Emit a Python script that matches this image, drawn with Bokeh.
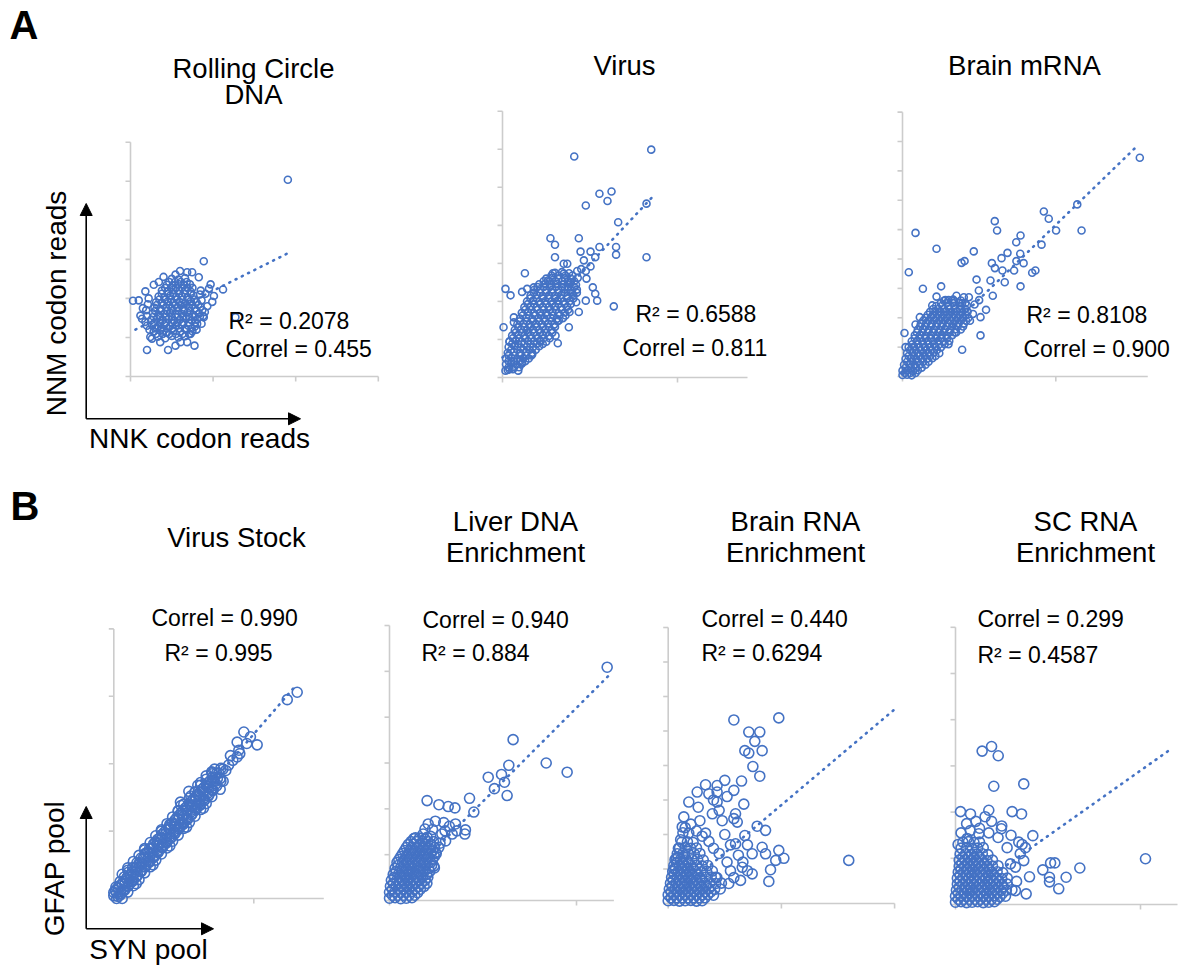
import math
from bokeh.plotting import figure
from bokeh.models import Range1d, Arrow, NormalHead
from bokeh.core.properties import value
from bokeh.embed import file_html
from bokeh.resources import INLINE

BLUE = "#4472C4"
AXIS = "#cccccc"
FONT = "Liberation Sans"

# ---------------- data (arbitrary units) ----------------
rc_pts = [(1.905,5.04),(0.887,2.95),(0.03,1.94),(1.12,2.23),(0.2,0.68),(0.455,0.68),(0.775,0.79),(0.97,2.36),(1.01,2.06),(0.99,1.91),(0.887,1.52),(1.27,1.52),(0.545,2.61),(0.686,2.67),(0.746,2.67),(0.827,2.54),(0.343,2.42),(0.18,2.18),(0.282,2.35),(0.12,1.56),(0.14,1.48),(0.24,1.01),(0.26,0.97),(0.36,0.88),(0.545,0.79),(0.605,0.88),(0.686,0.88),(0.908,2.12),(0.847,1.78),(0.807,1.35),(0.726,1.09),(0.40,1.17),(0.32,1.25),(0.10,1.95),(0.15,1.75),(0.90,1.65),(0.93,1.80),(0.85,2.20),(0.60,2.70),(0.40,2.55),(0.20,1.30),(0.95,2.25),
(0.18,1.40),(0.20,1.55),(0.19,1.70),(0.21,1.85),(0.22,2.00),(0.86,1.35),(0.88,1.55),(0.87,1.70),(0.86,1.95),(0.84,2.10),(0.23,1.20),(0.80,1.20),
(0.33,1.02),(0.42,0.98),(0.50,1.04),(0.58,1.00),(0.66,1.03),
(0.28,1.15),(0.36,1.18),(0.44,1.12),(0.52,1.17),(0.60,1.14),(0.68,1.19),(0.75,1.16),
(0.26,1.32),(0.34,1.28),(0.41,1.33),(0.48,1.29),(0.55,1.31),(0.62,1.34),(0.70,1.30),(0.78,1.28),
(0.25,1.45),(0.32,1.48),(0.39,1.44),(0.46,1.47),(0.53,1.43),(0.60,1.46),(0.67,1.49),(0.74,1.44),(0.81,1.47),
(0.27,1.62),(0.34,1.58),(0.41,1.61),(0.48,1.63),(0.55,1.59),(0.62,1.60),(0.69,1.64),(0.76,1.58),(0.83,1.61),
(0.29,1.76),(0.36,1.73),(0.43,1.77),(0.50,1.74),(0.57,1.78),(0.64,1.72),(0.71,1.76),(0.78,1.74),
(0.31,1.90),(0.38,1.88),(0.45,1.92),(0.52,1.89),(0.59,1.91),(0.66,1.87),(0.73,1.93),(0.80,1.90),
(0.34,2.05),(0.41,2.03),(0.48,2.07),(0.55,2.04),(0.62,2.06),(0.69,2.02),(0.76,2.08),
(0.38,2.20),(0.45,2.18),(0.52,2.22),(0.59,2.19),(0.66,2.21),(0.73,2.17),
(0.44,2.35),(0.51,2.33),(0.58,2.37),(0.65,2.34),(0.72,2.36),
(0.50,2.50),(0.58,2.48),(0.66,2.52)]
rc_dense_rows = [(1.09,[0.31,0.39,0.47,0.55,0.63,0.71]),(1.23,[0.30,0.37,0.45,0.51,0.59,0.66,0.74]),
                 (1.38,[0.29,0.36,0.43,0.50,0.57,0.64,0.71,0.78]),(1.53,[0.28,0.36,0.43,0.50,0.57,0.64,0.71,0.78,0.84]),
                 (1.68,[0.30,0.37,0.44,0.51,0.58,0.65,0.72,0.80]),(1.83,[0.32,0.40,0.47,0.54,0.61,0.68,0.75,0.82]),
                 (1.97,[0.35,0.42,0.49,0.56,0.63,0.70,0.77]),(2.12,[0.38,0.45,0.52,0.59,0.66,0.73]),
                 (2.27,[0.42,0.49,0.55,0.62,0.69,0.75]),(2.42,[0.47,0.54,0.61,0.68])]
rc_trend_x = [0.06, 1.90]
rc_trend_y = [1.20, 3.15]

virus_pts = [(0.85,5.99),(0.41,5.81),(0.554,4.83),(0.623,4.89),(0.60,4.64),(0.476,4.52),(0.823,4.57),(0.661,4.08),(0.274,3.66),(0.30,3.49),(0.436,3.66),(0.30,3.16),(0.554,3.43),(0.649,3.43),(0.649,3.23),(0.823,3.16),(0.446,3.31),(0.503,3.31),(0.53,3.16),(0.35,2.99),(0.37,2.99),(0.465,3.08),(0.503,2.92),(0.128,2.74),(0.288,2.74),(0.35,2.73),(0.427,2.80),(0.476,2.80),(0.017,2.33),(0.046,2.16),(0.112,2.25),(0.141,2.33),(0.179,2.37),(0.516,2.37),(0.53,2.20),(0.541,2.02),(0.636,1.87),(0.476,2.02),(0.421,1.98),(0.436,1.72),(0.383,1.72),(0.379,1.32),(0.322,1.50),(0.303,1.10),(0.316,0.90),(0.006,1.32),(0.065,1.58),(0.065,1.45),(0.04,0.94),(0.017,0.18),(0.04,0.22),(0.112,0.39),(0.17,0.61),(0.217,0.94),(0.39,2.50),(0.45,2.85),(0.40,2.20),(0.26,2.55),(0.48,2.60),
(0.03,0.20),(0.06,0.22),(0.09,0.18),
(0.02,0.35),(0.05,0.37),(0.08,0.34),(0.11,0.36),
(0.02,0.50),(0.05,0.52),(0.085,0.49),(0.12,0.51),(0.15,0.50),
(0.03,0.65),(0.065,0.67),(0.10,0.64),(0.135,0.66),(0.17,0.65),
(0.035,0.80),(0.07,0.82),(0.105,0.79),(0.14,0.81),(0.175,0.80),(0.21,0.82),
(0.04,0.95),(0.075,0.97),(0.11,0.94),(0.145,0.96),(0.18,0.95),(0.215,0.97),(0.25,0.94),
(0.055,1.10),(0.09,1.12),(0.125,1.09),(0.16,1.11),(0.195,1.10),(0.23,1.12),(0.265,1.09),
(0.07,1.25),(0.105,1.27),(0.14,1.24),(0.175,1.26),(0.21,1.25),(0.245,1.27),(0.28,1.24),
(0.085,1.40),(0.12,1.42),(0.155,1.39),(0.19,1.41),(0.225,1.40),(0.26,1.42),(0.295,1.39),
(0.10,1.55),(0.135,1.57),(0.17,1.54),(0.205,1.56),(0.24,1.55),(0.275,1.57),(0.31,1.54),(0.345,1.56),
(0.11,1.70),(0.145,1.72),(0.18,1.69),(0.215,1.71),(0.25,1.70),(0.285,1.72),(0.32,1.69),(0.355,1.71),
(0.125,1.85),(0.16,1.87),(0.195,1.84),(0.23,1.86),(0.265,1.85),(0.30,1.87),(0.335,1.84),(0.37,1.86),
(0.14,2.00),(0.175,2.02),(0.21,1.99),(0.245,2.01),(0.28,2.00),(0.315,2.02),(0.35,1.99),(0.385,2.01),
(0.16,2.15),(0.195,2.17),(0.23,2.14),(0.265,2.16),(0.30,2.15),(0.335,2.17),(0.37,2.14),(0.405,2.16),
(0.18,2.30),(0.215,2.32),(0.25,2.29),(0.285,2.31),(0.32,2.30),(0.355,2.32),(0.39,2.29),(0.425,2.31),
(0.21,2.45),(0.245,2.47),(0.28,2.44),(0.315,2.46),(0.35,2.45),(0.385,2.47),(0.42,2.44),
(0.25,2.60),(0.285,2.62),(0.32,2.59),(0.355,2.61),(0.39,2.60),(0.43,2.62),
(0.30,2.75),(0.34,2.77),(0.38,2.74)]
virus_dense_rows = [(0.27,[0.035,0.065,0.095]),(0.43,[0.035,0.065,0.10,0.13]),(0.58,[0.035,0.07,0.10,0.135,0.165]),
                    (0.73,[0.05,0.085,0.12,0.155,0.19]),(0.88,[0.055,0.09,0.125,0.16,0.195,0.23]),
                    (1.03,[0.06,0.095,0.13,0.165,0.20,0.235,0.27]),(1.18,[0.075,0.11,0.145,0.18,0.215,0.25,0.285]),
                    (1.33,[0.09,0.125,0.16,0.195,0.23,0.265,0.30]),(1.48,[0.10,0.14,0.175,0.21,0.245,0.28,0.315]),
                    (1.63,[0.115,0.15,0.185,0.22,0.255,0.29,0.325,0.36]),(1.78,[0.13,0.165,0.20,0.235,0.27,0.305,0.34,0.375]),
                    (1.93,[0.145,0.18,0.215,0.25,0.285,0.32,0.355,0.39]),(2.08,[0.16,0.195,0.23,0.265,0.30,0.335,0.37,0.405]),
                    (2.23,[0.18,0.215,0.25,0.285,0.32,0.355,0.39,0.425]),(2.38,[0.20,0.235,0.27,0.305,0.34,0.375,0.41]),
                    (2.53,[0.235,0.27,0.305,0.34,0.375,0.41]),(2.68,[0.28,0.32,0.36,0.40])]
virus_trend_x = [0.0, 0.855]
virus_trend_y = [0.53, 4.74]

brain_pts = [(1.548,7.45),(1.14,5.86),(0.922,5.62),(0.954,5.37),(1.002,4.97),(1.168,4.97),(0.907,4.49),(0.602,5.29),(0.617,4.97),(0.085,4.89),(0.77,4.80),(0.742,4.57),(0.222,4.35),(0.465,4.26),(0.685,4.21),(0.768,4.18),(0.385,3.87),(0.405,3.93),(0.646,4.03),(0.743,3.93),(0.79,3.86),(0.583,3.86),(0.603,3.69),(0.652,3.61),(0.728,3.61),(0.846,3.53),(0.867,3.61),(0.041,3.55),(0.483,3.30),(0.574,3.27),(0.667,3.21),(0.77,3.07),(0.133,2.99),(0.252,3.07),(0.498,2.93),(0.589,2.75),(0.352,2.75),(0.433,2.70),(0.222,2.72),(0.27,2.58),(0.335,2.58),(0.389,2.49),(0.47,2.45),(0.545,2.27),(0.509,2.02),(0.085,1.77),(0.113,2.02),(0.194,2.42),(0.509,1.40),(0.389,0.91),(0.013,1.48),(0.02,1.00),(0.44,1.90),(0.46,2.13),(0.30,2.60),(0.40,2.70),(0.50,2.60),(0.35,1.50),(0.30,1.10),
(0.00,0.05),(0.03,0.06),(0.06,0.04),
(0.00,0.20),(0.035,0.22),(0.07,0.19),(0.10,0.21),
(0.01,0.40),(0.045,0.42),(0.08,0.39),(0.115,0.41),(0.15,0.40),
(0.02,0.60),(0.055,0.62),(0.09,0.59),(0.125,0.61),(0.16,0.60),(0.195,0.62),
(0.03,0.80),(0.065,0.82),(0.10,0.79),(0.135,0.81),(0.17,0.80),(0.205,0.82),(0.24,0.79),
(0.04,1.00),(0.075,1.02),(0.11,0.99),(0.145,1.01),(0.18,1.00),(0.215,1.02),(0.25,0.99),
(0.06,1.20),(0.095,1.22),(0.13,1.19),(0.165,1.21),(0.20,1.20),(0.235,1.22),(0.27,1.19),(0.305,1.21),
(0.08,1.40),(0.115,1.42),(0.15,1.39),(0.185,1.41),(0.22,1.40),(0.255,1.42),(0.29,1.39),(0.325,1.41),
(0.10,1.60),(0.135,1.62),(0.17,1.59),(0.205,1.61),(0.24,1.60),(0.275,1.62),(0.31,1.59),(0.345,1.61),(0.38,1.60),
(0.12,1.80),(0.155,1.82),(0.19,1.79),(0.225,1.81),(0.26,1.80),(0.295,1.82),(0.33,1.79),(0.365,1.81),(0.40,1.80),
(0.15,2.00),(0.185,2.02),(0.22,1.99),(0.255,2.01),(0.29,2.00),(0.325,2.02),(0.36,1.99),(0.395,2.01),(0.43,2.00),
(0.18,2.20),(0.215,2.22),(0.25,2.19),(0.285,2.21),(0.32,2.20),(0.355,2.22),(0.39,2.19),(0.425,2.21),
(0.22,2.40),(0.26,2.42),(0.30,2.39),(0.34,2.41),(0.38,2.40),(0.42,2.42),
(0.28,2.60),(0.33,2.62),(0.38,2.59)]
brain_dense_rows = [(0.12,[0.015,0.05,0.085]),(0.30,[0.02,0.055,0.09,0.125]),(0.50,[0.03,0.065,0.10,0.135,0.17]),
                    (0.70,[0.04,0.075,0.11,0.145,0.18,0.215]),(0.90,[0.05,0.085,0.12,0.155,0.19,0.225]),
                    (1.10,[0.065,0.10,0.135,0.17,0.205,0.24,0.275]),(1.30,[0.08,0.115,0.15,0.185,0.22,0.255,0.29]),
                    (1.50,[0.095,0.13,0.165,0.20,0.235,0.27,0.305,0.34]),(1.70,[0.115,0.15,0.185,0.22,0.255,0.29,0.325,0.36,0.395]),
                    (1.90,[0.135,0.17,0.205,0.24,0.275,0.31,0.345,0.38,0.415]),(2.10,[0.165,0.20,0.235,0.27,0.305,0.34,0.375,0.41]),
                    (2.30,[0.20,0.235,0.27,0.305,0.34,0.375,0.41]),(2.50,[0.25,0.29,0.33,0.37,0.41])]
brain_trend_x = [0.0, 1.535]
brain_trend_y = [0.10, 7.87]

stock_pts = [(0.00,0.04),(0.01,0.12),(0.03,0.03),(0.03,0.16),(0.05,0.10),(0.06,0.22),(0.07,0.12),(0.09,0.30),(0.10,0.18),(0.12,0.36),(0.13,0.25),(0.15,0.45),(0.16,0.32),(0.18,0.52),(0.19,0.40),(0.21,0.60),(0.22,0.47),(0.24,0.68),(0.25,0.55),(0.27,0.75),(0.28,0.62),(0.30,0.84),(0.31,0.70),(0.33,0.90),(0.34,0.77),(0.36,0.98),(0.37,0.84),(0.39,1.05),(0.40,0.92),(0.42,1.12),(0.43,0.99),(0.45,1.20),(0.46,1.06),(0.48,1.27),(0.49,1.13),(0.51,1.34),(0.52,1.20),(0.54,1.40),(0.55,1.28),(0.57,1.48),(0.58,1.35),(0.60,1.54),(0.61,1.42),(0.63,1.62),(0.64,1.48),(0.66,1.68),(0.67,1.56),(0.69,1.75),(0.70,1.62),(0.72,1.80),(0.73,1.70),(0.75,1.86),(0.76,1.78),(0.78,1.92),(0.80,1.90),(0.82,1.98),
(0.02,0.08),(0.08,0.22),(0.14,0.36),(0.20,0.51),(0.26,0.65),(0.32,0.79),(0.38,0.93),(0.44,1.07),(0.50,1.22),(0.56,1.36),(0.62,1.50),(0.68,1.64),(0.74,1.78),
(0.536,1.59),(0.476,1.43),(0.703,1.85),(0.781,1.74),(0.833,2.12),(0.881,2.10),(0.893,2.20),(0.881,2.32),(0.929,2.47),(0.976,2.40),(1.024,2.28),(1.239,2.95),(1.31,3.06),(0.85,2.05),(0.90,2.15),(0.95,2.30),(0.72,1.92),(0.40,1.10),(0.62,1.72),
(0.015,0.17),(0.045,0.25),(0.045,0.05),(0.075,0.32),(0.075,0.12),(0.105,0.39),(0.105,0.19),(0.135,0.46),(0.135,0.26),(0.165,0.53),(0.165,0.33),(0.195,0.60),(0.195,0.40),(0.225,0.67),(0.225,0.47),(0.255,0.74),(0.255,0.54),(0.285,0.81),(0.285,0.61),(0.315,0.88),(0.315,0.68),(0.345,0.95),(0.345,0.75),(0.375,1.02),(0.375,0.82),(0.405,1.09),(0.405,0.89),(0.435,1.16),(0.435,0.96),(0.465,1.23),(0.465,1.03),(0.495,1.30),(0.495,1.10),(0.525,1.37),(0.525,1.17),(0.555,1.44),(0.555,1.24),(0.585,1.51),(0.585,1.31),(0.615,1.58),(0.615,1.38),(0.645,1.65),(0.645,1.45),(0.675,1.72),(0.675,1.52),(0.705,1.80),(0.705,1.60),(0.735,1.86),(0.735,1.67),(0.765,1.93),(0.765,1.74),
(0.00,0.09),(0.02,0.00),(0.04,0.19),(0.05,0.07),(0.07,0.25),(0.08,0.14),(0.10,0.32),(0.11,0.21),(0.13,0.39),(0.14,0.28),(0.16,0.46),(0.17,0.35),(0.19,0.53),(0.20,0.42),(0.22,0.60),(0.23,0.49),(0.25,0.68),(0.26,0.56),(0.28,0.75),(0.29,0.63),(0.31,0.82),(0.32,0.70),(0.34,0.89),(0.35,0.77),(0.37,0.96),(0.38,0.84),(0.40,1.03),(0.41,0.91),(0.43,1.10),(0.44,0.98),(0.46,1.17),(0.47,1.05),(0.49,1.24),(0.50,1.12),(0.52,1.31),(0.53,1.19),(0.55,1.38),(0.56,1.26),(0.58,1.45),(0.59,1.33),(0.61,1.52),(0.62,1.40),(0.64,1.59),(0.65,1.47),(0.67,1.66),(0.68,1.54),(0.70,1.73),(0.71,1.61),
(0.10,0.42),(0.16,0.22),(0.22,0.72),(0.28,0.50),(0.34,1.00),(0.40,0.78),(0.46,1.30),(0.52,1.06),(0.58,1.58),(0.64,1.34),(0.70,1.88),(0.76,1.62),(0.60,1.68),(0.66,1.82),(0.55,1.52),(0.48,1.38),
(0.06,0.36),(0.06,0.00),(0.10,0.455),(0.10,0.095),(0.14,0.55),(0.14,0.19),(0.18,0.64),(0.18,0.28),(0.22,0.74),(0.22,0.38),(0.26,0.83),(0.26,0.47),(0.30,0.93),(0.30,0.57),(0.34,1.02),(0.34,0.66),(0.38,1.11),(0.38,0.75),(0.42,1.21),(0.42,0.85),(0.46,1.30),(0.46,0.94),(0.50,1.40),(0.50,1.04),(0.54,1.49),(0.54,1.13),(0.58,1.58),(0.58,1.22),(0.62,1.68),(0.62,1.32),(0.66,1.77),(0.66,1.41),(0.70,1.87),(0.70,1.51)]
stock_trend_x = [0.0, 1.30]
stock_trend_y = [0.04, 3.16]

liver_pts = [(1.164,5.09),(0.661,3.51),(0.838,3.0),(0.95,2.8),(0.638,2.95),(0.599,2.75),(0.615,2.58),(0.528,2.69),(0.561,2.44),(0.629,2.29),(0.428,2.23),(0.451,1.93),(0.201,2.18),(0.264,2.09),(0.314,2.05),(0.35,2.02),(0.245,1.73),(0.207,1.67),(0.19,1.56),(0.297,1.52),(0.335,1.45),(0.406,1.54),(0.403,1.45),(0.353,1.67),(0.139,1.37),(0.201,1.38),(0.264,1.16),(0.246,1.05),(0.237,0.75),(0.148,0.51),(0.094,0.29),(0.32,1.62),(0.28,1.45),(0.30,1.30),(0.27,1.25),(0.23,1.55),(0.29,1.70),(0.36,1.52),(0.22,1.40),(0.18,1.45),
(0.00,0.05),(0.03,0.06),(0.06,0.04),(0.09,0.05),(0.12,0.06),
(0.00,0.18),(0.03,0.19),(0.06,0.17),(0.09,0.18),(0.12,0.19),(0.15,0.17),
(0.005,0.31),(0.035,0.32),(0.065,0.30),(0.095,0.31),(0.125,0.32),(0.155,0.30),(0.185,0.31),
(0.01,0.44),(0.04,0.45),(0.07,0.43),(0.10,0.44),(0.13,0.45),(0.16,0.43),(0.19,0.44),
(0.02,0.57),(0.05,0.58),(0.08,0.56),(0.11,0.57),(0.14,0.58),(0.17,0.56),(0.20,0.57),
(0.03,0.70),(0.06,0.71),(0.09,0.69),(0.12,0.70),(0.15,0.71),(0.18,0.69),(0.21,0.70),(0.24,0.71),
(0.04,0.83),(0.07,0.84),(0.10,0.82),(0.13,0.83),(0.16,0.84),(0.19,0.82),(0.22,0.83),
(0.06,0.96),(0.09,0.97),(0.12,0.95),(0.15,0.96),(0.18,0.97),(0.21,0.95),(0.24,0.96),
(0.08,1.09),(0.11,1.10),(0.14,1.08),(0.17,1.09),(0.20,1.10),(0.23,1.08),
(0.10,1.22),(0.13,1.23),(0.16,1.21),(0.19,1.22),(0.22,1.23),
(0.13,1.35),(0.16,1.36),(0.19,1.34)]
liver_dense_rows = [(0.115,[0.015,0.045,0.075,0.105,0.135]),(0.245,[0.015,0.045,0.075,0.105,0.135,0.165]),
                    (0.375,[0.02,0.05,0.08,0.11,0.14,0.17,0.20]),(0.505,[0.025,0.055,0.085,0.115,0.145,0.175,0.205]),
                    (0.635,[0.035,0.065,0.095,0.125,0.155,0.185,0.215]),(0.765,[0.045,0.075,0.105,0.135,0.165,0.195,0.225]),
                    (0.895,[0.05,0.08,0.11,0.14,0.17,0.20,0.23]),(1.025,[0.07,0.10,0.13,0.16,0.19,0.22,0.25]),
                    (1.155,[0.09,0.12,0.15,0.18,0.21,0.24]),(1.285,[0.115,0.145,0.175,0.205,0.235])]
liver_trend_x = [0.0, 1.173]
liver_trend_y = [0.12, 4.91]

brna_pts = [(1.595,1.25),(0.977,5.38),(0.58,5.32),(0.712,4.97),(0.809,4.97),(0.765,4.70),(0.677,4.43),(0.712,4.36),(0.83,4.43),(0.748,3.97),(0.809,3.69),(0.648,3.55),(0.50,3.57),(0.58,3.28),(0.33,3.44),(0.432,3.42),(0.432,3.23),(0.432,2.94),(0.256,3.23),(0.182,2.94),(0.265,2.79),(0.668,2.88),(0.595,2.60),(0.58,2.46),(0.61,2.36),(0.786,2.24),(0.86,2.12),(0.677,1.97),(0.595,1.73),(0.83,1.63),(0.977,1.54),(1.022,1.31),(0.95,1.25),(0.86,1.44),(0.742,1.44),(0.889,0.64),(0.904,0.98),(0.124,2.22),(0.138,2.51),(0.182,2.04),(0.33,2.04),(0.359,3.18),(0.39,2.60),(0.477,2.40),(0.654,1.05),(0.639,0.67),(0.535,0.58),(0.742,0.86),(0.418,0.76),
(0.05,1.00),(0.07,1.30),(0.09,1.60),(0.11,1.85),(0.13,2.05),(0.15,2.20),(0.20,2.30),(0.25,2.10),(0.30,1.95),(0.36,1.80),(0.40,1.60),(0.45,1.45),(0.52,1.20),(0.55,0.95),(0.58,0.75),(0.62,1.40),(0.66,1.20),(0.70,0.95),(0.50,2.00),(0.45,2.70),(0.28,2.40),(0.55,1.70),(0.70,1.70),(0.40,3.00),(0.52,3.10),
(0.00,0.08),(0.05,0.09),(0.10,0.07),(0.15,0.08),(0.20,0.09),(0.25,0.07),(0.30,0.08),
(0.00,0.25),(0.05,0.26),(0.10,0.24),(0.15,0.25),(0.20,0.26),(0.25,0.24),(0.30,0.25),(0.35,0.26),(0.40,0.24),
(0.01,0.42),(0.06,0.43),(0.11,0.41),(0.16,0.42),(0.21,0.43),(0.26,0.41),(0.31,0.42),(0.36,0.43),(0.41,0.41),(0.46,0.42),
(0.02,0.59),(0.07,0.60),(0.12,0.58),(0.17,0.59),(0.22,0.60),(0.27,0.58),(0.32,0.59),(0.37,0.60),(0.42,0.58),(0.47,0.59),
(0.03,0.76),(0.08,0.77),(0.13,0.75),(0.18,0.76),(0.23,0.77),(0.28,0.75),(0.33,0.76),(0.38,0.77),(0.43,0.75),
(0.04,0.93),(0.09,0.94),(0.14,0.92),(0.19,0.93),(0.24,0.94),(0.29,0.92),(0.34,0.93),(0.39,0.94),
(0.05,1.10),(0.10,1.11),(0.15,1.09),(0.20,1.10),(0.25,1.11),(0.30,1.09),(0.35,1.10),
(0.06,1.27),(0.11,1.28),(0.16,1.26),(0.21,1.27),(0.26,1.28),(0.31,1.26),
(0.08,1.44),(0.13,1.45),(0.18,1.43),(0.23,1.44),(0.28,1.45),
(0.10,1.61),(0.15,1.62),(0.20,1.60),(0.25,1.61),
(0.12,1.78),(0.17,1.79),(0.22,1.77)]
brna_dense_rows = [(0.165,[0.025,0.075,0.125,0.175,0.225,0.275,0.325]),(0.335,[0.025,0.075,0.125,0.175,0.225,0.275,0.325,0.375]),
                   (0.505,[0.035,0.085,0.135,0.185,0.235,0.285,0.335]),(0.675,[0.045,0.095,0.145,0.195,0.245,0.295]),
                   (0.845,[0.055,0.105,0.155,0.205,0.255]),(1.015,[0.065,0.115,0.165,0.215]),
                   (1.185,[0.075,0.125,0.175]),(1.355,[0.085,0.135])]
brna_trend_x = [0.0, 1.993]
brna_trend_y = [0.08, 5.61]

sc_pts = [(1.027,0.99),(0.195,3.42),(0.144,3.32),(0.231,3.22),(0.207,2.56),(0.369,2.61),(0.027,2.01),(0.081,1.96),(0.18,2.04),(0.306,2.01),(0.357,1.96),(0.195,1.80),(0.248,1.64),(0.418,1.49),(0.342,1.35),(0.378,1.23),(0.014,1.30),(0.063,1.43),(0.126,1.53),(0.279,1.23),(0.369,0.95),(0.472,0.75),(0.514,0.90),(0.537,0.90),(0.508,0.59),(0.508,0.49),(0.598,0.59),(0.672,0.79),(0.558,0.34),(0.382,0.23),(0.324,0.30),(0.297,0.88),(0.324,0.81),(0.03,1.55),(0.08,1.60),(0.13,1.65),(0.18,1.55),(0.23,1.45),(0.06,1.75),(0.11,1.80),(0.16,1.90),(0.30,1.50),(0.25,1.70),(0.35,1.10),(0.40,0.60),(0.33,0.50),(0.36,1.30),
(0.00,0.05),(0.03,0.06),(0.06,0.04),(0.09,0.05),(0.12,0.06),(0.15,0.04),(0.18,0.05),(0.21,0.06),
(0.00,0.18),(0.03,0.19),(0.06,0.17),(0.09,0.18),(0.12,0.19),(0.15,0.17),(0.18,0.18),(0.21,0.19),(0.24,0.17),(0.27,0.18),
(0.005,0.31),(0.035,0.32),(0.065,0.30),(0.095,0.31),(0.125,0.32),(0.155,0.30),(0.185,0.31),(0.215,0.32),(0.245,0.30),(0.275,0.31),(0.305,0.32),
(0.01,0.44),(0.04,0.45),(0.07,0.43),(0.10,0.44),(0.13,0.45),(0.16,0.43),(0.19,0.44),(0.22,0.45),(0.25,0.43),(0.28,0.44),
(0.01,0.57),(0.04,0.58),(0.07,0.56),(0.10,0.57),(0.13,0.58),(0.16,0.56),(0.19,0.57),(0.22,0.58),(0.25,0.56),(0.28,0.57),
(0.015,0.70),(0.045,0.71),(0.075,0.69),(0.105,0.70),(0.135,0.71),(0.165,0.69),(0.195,0.70),(0.225,0.71),(0.255,0.69),
(0.02,0.83),(0.05,0.84),(0.08,0.82),(0.11,0.83),(0.14,0.84),(0.17,0.82),(0.20,0.83),(0.23,0.84),
(0.02,0.96),(0.05,0.97),(0.08,0.95),(0.11,0.96),(0.14,0.97),(0.17,0.95),(0.20,0.96),
(0.025,1.09),(0.055,1.10),(0.085,1.08),(0.115,1.09),(0.145,1.10),(0.175,1.08),
(0.03,1.22),(0.06,1.23),(0.09,1.21),(0.12,1.22),(0.15,1.23),
(0.04,1.35),(0.07,1.36),(0.10,1.34),(0.13,1.35)]
sc_dense_rows = [(0.115,[0.015,0.045,0.075,0.105,0.135,0.165,0.195,0.225]),(0.245,[0.015,0.045,0.075,0.105,0.135,0.165,0.195,0.225,0.255]),
                 (0.375,[0.02,0.05,0.08,0.11,0.14,0.17,0.20,0.23,0.26]),(0.505,[0.025,0.055,0.085,0.115,0.145,0.175,0.205,0.235]),
                 (0.635,[0.025,0.055,0.085,0.115,0.145,0.175,0.205]),(0.765,[0.03,0.06,0.09,0.12,0.15,0.18]),
                 (0.895,[0.035,0.065,0.095,0.125,0.155]),(1.025,[0.04,0.07,0.10,0.13])]
sc_trend_x = [0.0, 1.17]
sc_trend_y = [0.07, 3.38]

panel_titles = ["Rolling Circle", "DNA", "Virus", "Brain mRNA", "Virus Stock",
                "Liver DNA", "Enrichment", "Brain RNA", "Enrichment", "SC RNA", "Enrichment"]
stat_labels = ["R² = 0.2078", "Correl = 0.455", "R² = 0.6588", "Correl = 0.811",
               "R² = 0.8108", "Correl = 0.900", "Correl = 0.990", "R² = 0.995",
               "Correl = 0.940", "R² = 0.884", "Correl = 0.440", "R² = 0.6294",
               "Correl = 0.299", "R² = 0.4587"]

# ---------------- layout (page pixel positions) ----------------
W, H = 1178, 969
LEFT, TOP = 0, 0
SHIFT = 0.38   # measured offset of Bokeh's "alphabetic" anchor, in em
p = figure(width=W, height=H, x_range=Range1d(LEFT, LEFT + W), y_range=Range1d(TOP + H, TOP),
           output_backend="svg", toolbar_location=None, x_axis_type=None, y_axis_type=None,
           min_border=0, outline_line_color=None)
p.background_fill_color = "white"


def rows_to_pts(rows):
    return [(x, y) for y, xs in rows for x in xs]


panels = [
    ("rc", rc_pts + rows_to_pts(rc_dense_rows), rc_trend_x, rc_trend_y,
     dict(x0=130, ux=82.6, xmax=3, y0=376, uy=39.05, ymax=6, size=7)),
    ("virus", virus_pts + rows_to_pts(virus_dense_rows), virus_trend_x, virus_trend_y,
     dict(x0=502, ux=175, xmax=1.4, y0=377, uy=38.04, ymax=7, size=7)),
    ("brain", brain_pts + rows_to_pts(brain_dense_rows), brain_trend_x, brain_trend_y,
     dict(x0=902, ux=153.3, xmax=1.6, y0=376, uy=29.37, ymax=9, size=7)),
    ("stock", stock_pts, stock_trend_x, stock_trend_y,
     dict(x0=113.3, ux=140, xmax=1.5, y0=898, uy=67.4, ymax=4, size=10)),
    ("liver", liver_pts + rows_to_pts(liver_dense_rows), liver_trend_x, liver_trend_y,
     dict(x0=389, ux=187, xmax=1.2, y0=900, uy=45.83, ymax=6, size=10)),
    ("brna", brna_pts + rows_to_pts(brna_dense_rows), brna_trend_x, brna_trend_y,
     dict(x0=667.7, ux=113.2, xmax=2, y0=903, uy=34.5, ymax=8, size=10)),
    ("sc", sc_pts + rows_to_pts(sc_dense_rows), sc_trend_x, sc_trend_y,
     dict(x0=955, ux=185, xmax=1.2, y0=904, uy=46.2, ymax=6, size=10)),
]

TICK = 5.0
for name, pts, tx, ty, g in panels:
    xr, yr = name + "_x", name + "_y"
    p.extra_x_ranges[xr] = Range1d((LEFT - g["x0"]) / g["ux"], (LEFT + W - g["x0"]) / g["ux"])
    p.extra_y_ranges[yr] = Range1d((g["y0"] - (TOP + H)) / g["uy"], (g["y0"] - TOP) / g["uy"])
    kw = dict(x_range_name=xr, y_range_name=yr)
    p.segment(x0=[0, 0], y0=[0, 0], x1=[g["xmax"], 0], y1=[0, g["ymax"]],
              line_color=AXIS, line_width=1.6, **kw)
    yt = list(range(0, g["ymax"] + 1))
    p.segment(x0=[0] * len(yt), y0=yt, x1=[-TICK / g["ux"]] * len(yt), y1=yt,
              line_color=AXIS, line_width=1.6, **kw)
    xt = list(range(0, int(math.floor(g["xmax"] + 1e-9)) + 1))
    p.segment(x0=xt, y0=[0] * len(xt), x1=xt, y1=[-TICK / g["uy"]] * len(xt),
              line_color=AXIS, line_width=1.6, **kw)
    xs = [a for a, b in pts]
    ys = [b for a, b in pts]
    p.scatter(xs, ys, marker="circle", size=g["size"], fill_color=None,
              line_color=BLUE, line_width=1.6, **kw)
    p.line(tx, ty, line_color=BLUE, line_width=2.6, line_dash="1 6", line_cap="round", **kw)


def put_text(xs, ys, texts, size, align="center", bold=False, rotated=False):
    off = SHIFT * size
    if rotated:
        xs = [x - off for x in xs]
    else:
        ys = [y - off for y in ys]
    p.text(x=xs, y=ys, text=texts, text_font=value(FONT), text_font_size=value(f"{size}px"),
           text_font_style="bold" if bold else "normal", text_align=align,
           text_baseline="alphabetic", text_color="black",
           angle=math.pi / 2 if rotated else 0)


# titles (x centre, baseline)
title_x = [253, 253, 624, 1024, 236, 515, 515, 795, 795, 1085, 1085]
title_y = [78, 104, 75, 75, 547, 531, 562, 531, 562, 531, 562]
put_text(title_x, title_y, panel_titles, 27.5)

stat_x = [228, 225, 635, 622, 1026, 1023, 151, 164, 422, 421, 701, 701, 977, 977]
stat_y = [329, 357, 322, 356, 323, 357, 626, 661, 628, 661, 627, 661, 627, 663]
put_text(stat_x, stat_y, stat_labels, 23, align="left")

put_text([9, 10], [40, 521], ["A", "B"], 40, align="left", bold=True)

put_text([199, 148], [449, 960], ["NNK codon reads", "SYN pool"], 28)
put_text([67, 65], [303, 868], ["NNM codon reads", "GFAP pool"], 28, rotated=True)

for xs_, ys_, xe, ye in [(85.7, 418.3, 85.7, 203), (85.7, 418.3, 300, 418.3),
                         (85.7, 928.3, 85.7, 806), (85.7, 928.3, 213, 928.3)]:
    p.add_layout(Arrow(end=NormalHead(size=12, fill_color="black", line_color="black", line_width=1),
                       x_start=xs_, y_start=ys_, x_end=xe, y_end=ye, line_color="black", line_width=1.6))

open("out.html", "w").write(file_html(p, INLINE))
